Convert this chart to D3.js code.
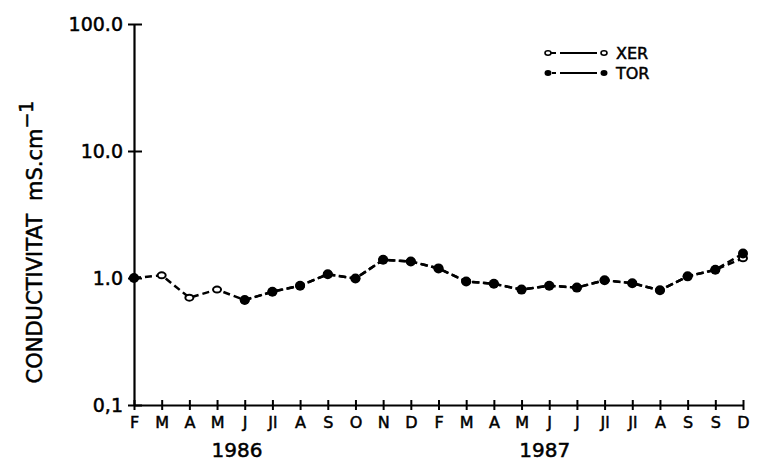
<!DOCTYPE html>
<html><head><meta charset="utf-8">
<script src="https://cdn.jsdelivr.net/npm/d3@7"></script>
<style>body{margin:0;background:#fff}text{font-family:"DejaVu Sans",sans-serif;fill:#000;stroke:#000;stroke-width:0.5px}</style></head>
<body><svg id="c" width="758" height="466"></svg>
<script>
const months = ["F","M","A","M","J","Jl","A","S","O","N","D","F","M","A","M","J","J","Jl","Jl","A","S","S","D"];
const yearLabels = ["1986","1987"];
const yTicks = [0.1, 1, 10, 100];
const yTickLabels = ["0,1","1.0","10.0","100.0"];
const seriesNames = ["XER","TOR"];
const xer = [1.00,1.05,0.70,0.81,0.67,0.78,0.87,1.07,0.99,1.39,1.35,1.19,0.94,0.90,0.81,0.87,0.84,0.96,0.91,0.80,1.03,1.16,1.43];
const tor = [1.00,null,null,null,0.67,0.78,0.87,1.07,0.99,1.39,1.35,1.19,0.94,0.90,0.81,0.87,0.84,0.96,0.91,0.80,1.03,1.16,1.56];

const svg = d3.select("#c");
const x = d3.scaleLinear().domain([0, months.length-1]).range([134, 743]);
const y = d3.scaleLog().domain([0.1, 100]).range([405, 24]);

// y axis
const ya = svg.append("g").attr("transform","translate(134,0)")
  .call(d3.axisLeft(y).tickValues(yTicks).tickFormat((d,i)=>yTickLabels[i]).tickSizeOuter(0));
ya.select(".domain").attr("stroke","#000").attr("stroke-width",2.2);
ya.selectAll(".tick line").attr("x1",8).attr("x2",-6).attr("stroke","#000").attr("stroke-width",2);
ya.selectAll(".tick text").attr("x",-11).attr("dy","0.36em").attr("font-size",19).attr("font-family","DejaVu Sans");

// x axis
const xa = svg.append("g").attr("transform","translate(0,405)")
  .call(d3.axisBottom(x).tickValues(d3.range(months.length)).tickFormat(i=>months[i]).tickSizeOuter(0));
xa.select(".domain").attr("stroke","#000").attr("stroke-width",2.2);
xa.selectAll(".tick line").attr("y1",-5).attr("y2",5).attr("stroke","#000").attr("stroke-width",2);
xa.selectAll(".tick text").attr("y",17).attr("dy","0.36em").attr("font-size",16).attr("font-family","DejaVu Sans");

// year labels
const yearIdx = [3.72, 14.84];
svg.selectAll(".yr").data(yearLabels).enter().append("text")
  .attr("x",(d,i)=>x(yearIdx[i])).attr("y",450).attr("dy","0.36em")
  .attr("text-anchor","middle").attr("font-size",20).text(d=>d);

// y label
const yl = svg.append("text").attr("transform","translate(42,242) rotate(-90)")
  .attr("text-anchor","middle").attr("font-size",21);
yl.append("tspan").text("CONDUCTIVITAT");
yl.append("tspan").attr("dx",13).text("mS.cm");
yl.append("tspan").attr("dy","-0.45em").attr("font-size",19).text("−1");

// lines
const lineI = d3.line().defined(d=>d.v!=null).x(d=>x(d.i)).y(d=>y(d.v));
svg.append("path").datum(xer.map((v,i)=>({v,i}))).attr("d",lineI)
  .attr("fill","none").attr("stroke","#000").attr("stroke-width",2.5).attr("stroke-dasharray","7,4");
svg.append("path").datum(tor.map((v,i)=>({v,i}))).attr("d",lineI)
  .attr("fill","none").attr("stroke","#000").attr("stroke-width",2.5).attr("stroke-dasharray","7,4");

// markers
svg.selectAll(".xm").data(xer.map((v,i)=>({v,i})).filter(d=>d.v!=null)).enter().append("ellipse")
  .attr("cx",d=>x(d.i)).attr("cy",d=>y(d.v)).attr("rx",4).attr("ry",3)
  .attr("fill","#fff").attr("stroke","#000").attr("stroke-width",2);
svg.selectAll(".tm").data(tor.map((v,i)=>({v,i})).filter(d=>d.v!=null)).enter().append("circle")
  .attr("cx",d=>x(d.i)).attr("cy",d=>y(d.v)).attr("r",5).attr("fill","#000");

// legend
const lg = svg.append("g");
seriesNames.forEach((n,k)=>{
  const ly = 53 + k*20;
  lg.append("line").attr("x1",560).attr("x2",597).attr("y1",ly).attr("y2",ly).attr("stroke","#000").attr("stroke-width",2);
  [548,604].forEach(cx=>{
    if(k===0) lg.append("ellipse").attr("cx",cx).attr("cy",ly).attr("rx",3).attr("ry",2.2).attr("fill","#fff").attr("stroke","#000").attr("stroke-width",1.6);
    else lg.append("ellipse").attr("cx",cx).attr("cy",ly).attr("rx",3.5).attr("ry",3).attr("fill","#000");
  });
  lg.append("line").attr("x1",k===0?551:552).attr("x2",556).attr("y1",ly).attr("y2",ly).attr("stroke","#000").attr("stroke-width",2);
  lg.append("text").attr("x",616).attr("y",ly).attr("dy","0.36em").attr("font-size",16).text(n);
});
</script></body></html>
